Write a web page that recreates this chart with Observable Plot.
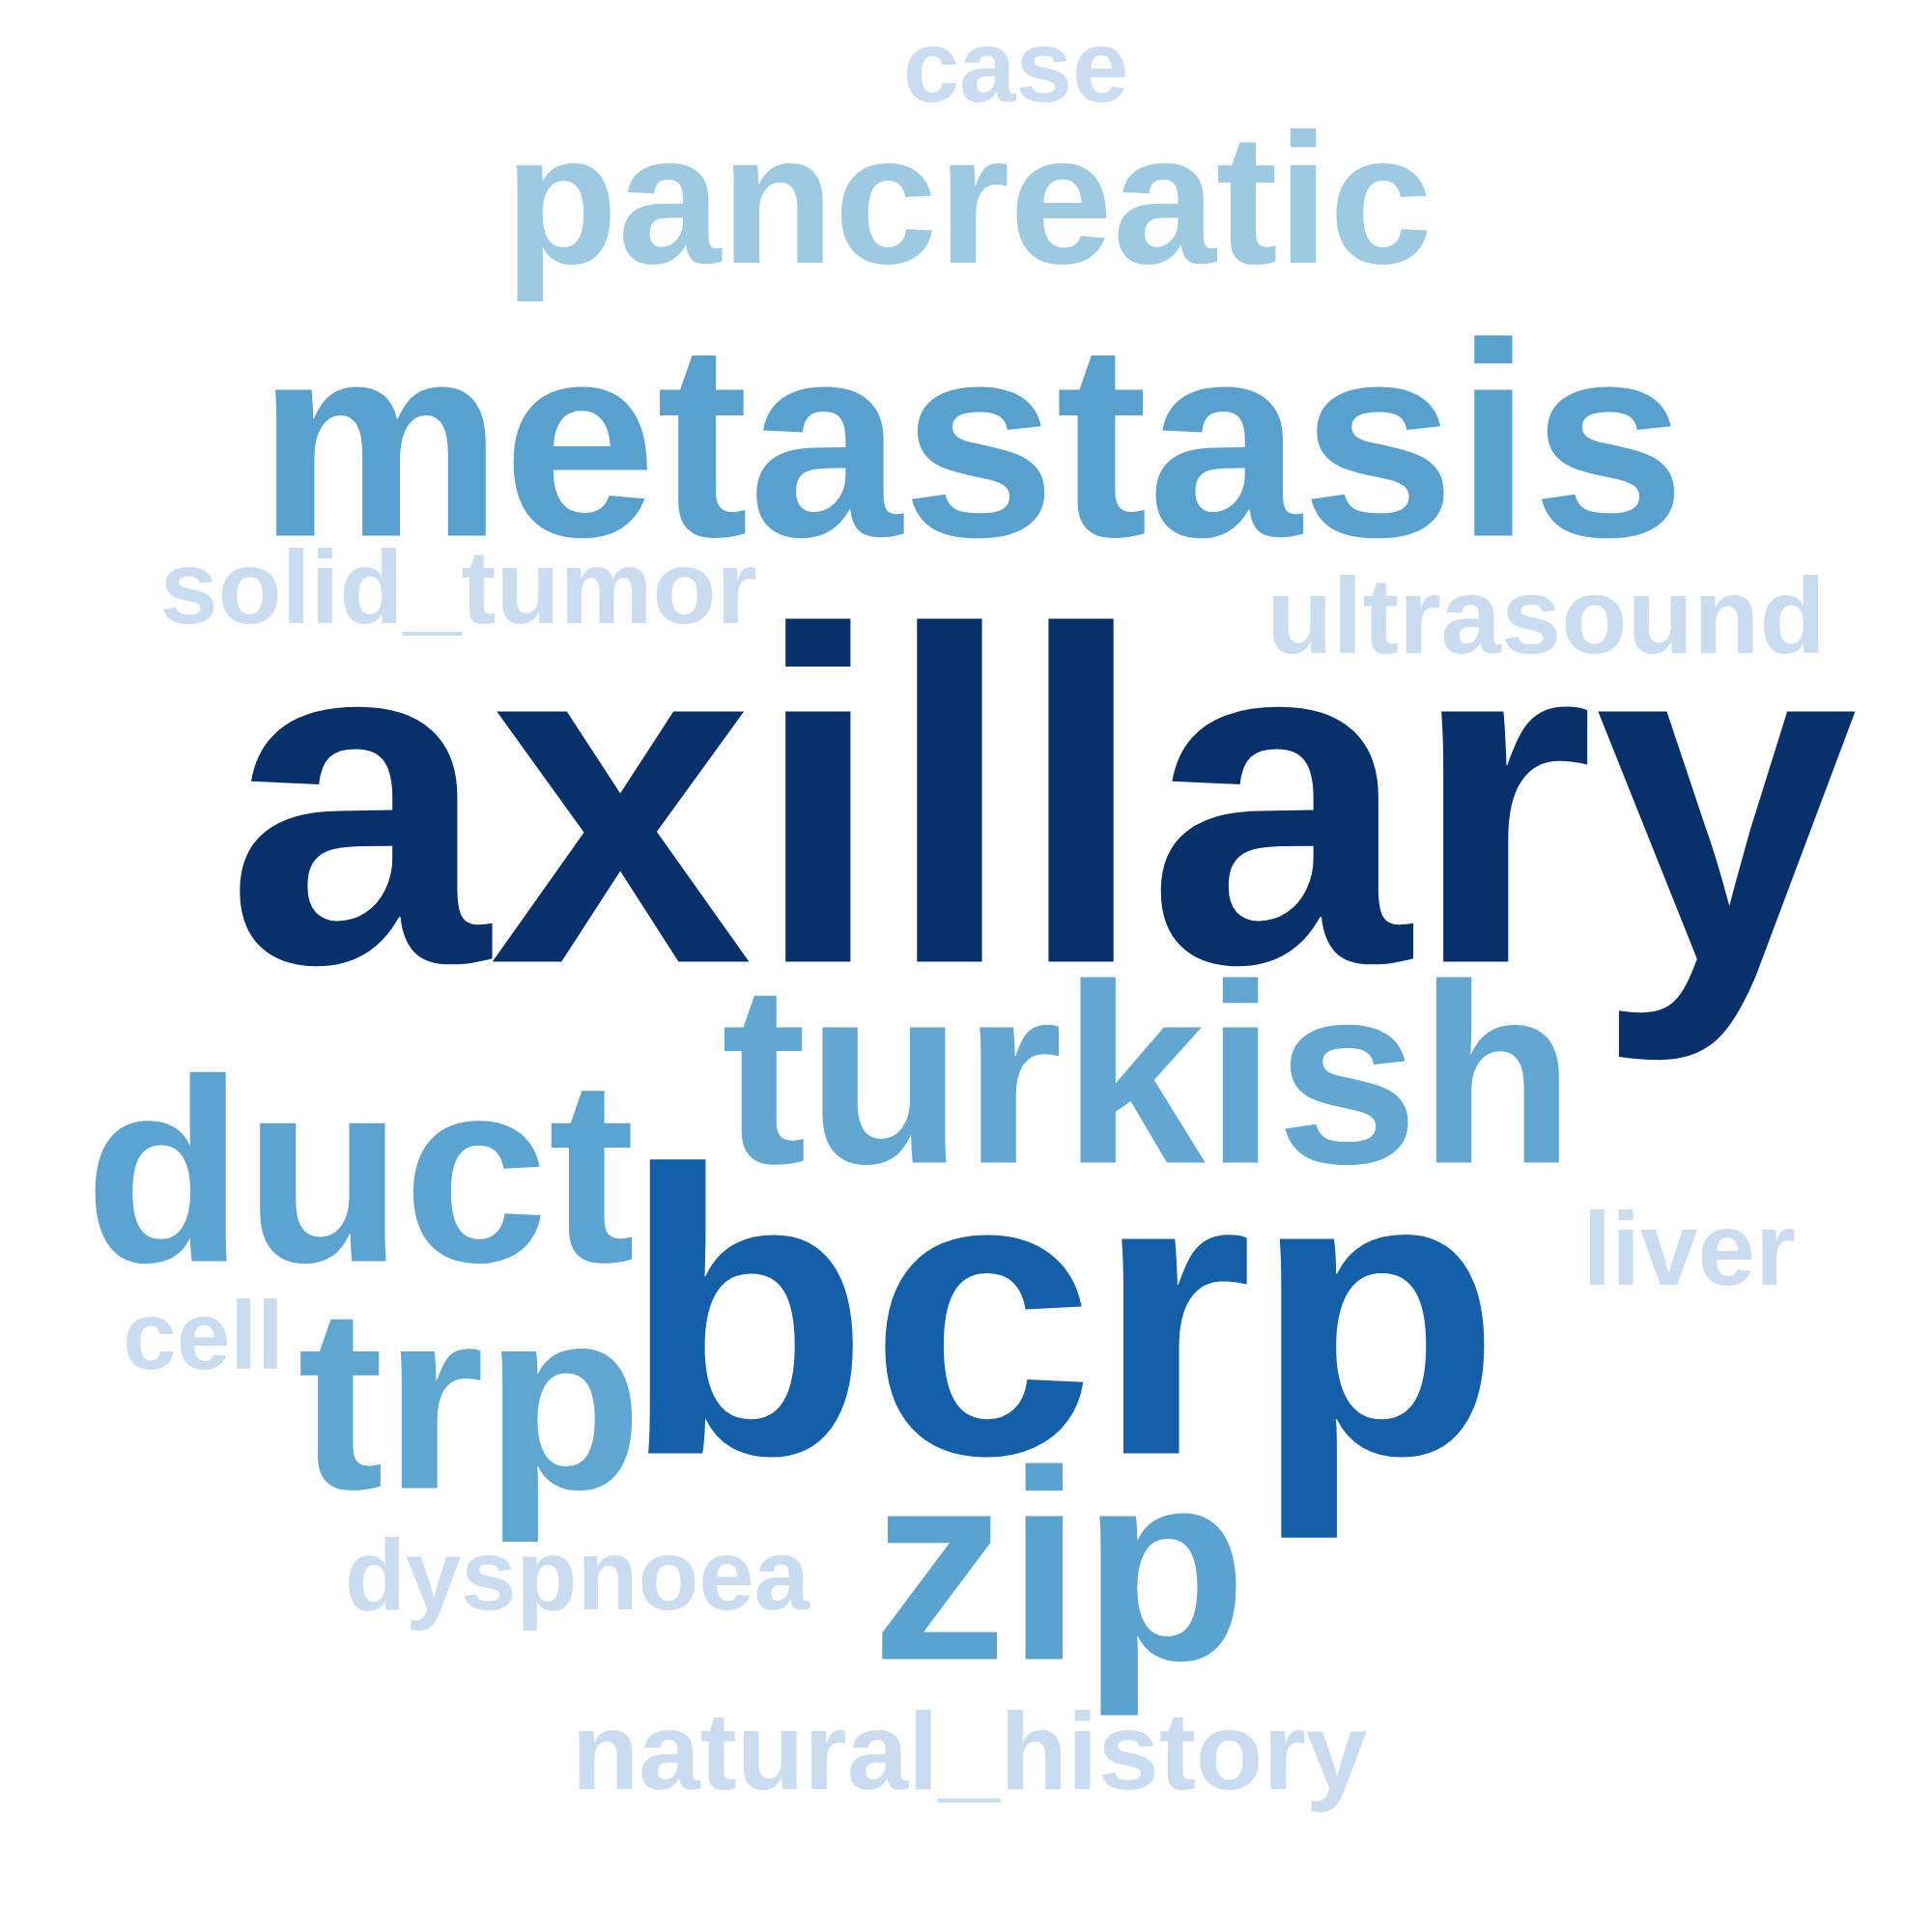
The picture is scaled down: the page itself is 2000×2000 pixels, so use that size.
<!DOCTYPE html>
<html><head><meta charset="utf-8">
<script src="https://cdn.jsdelivr.net/npm/d3@7"></script>
<script src="https://cdn.jsdelivr.net/npm/@observablehq/plot@0.6"></script>
<style>body{margin:0;background:#fff}</style>
</head><body><div id="chart"></div>
<script>
const words = ["axillary","metastasis","bcrp","turkish","duct","trp","zip","pancreatic","case","solid_tumor","ultrasound","liver","cell","dyspnoea","natural_history"];
const sizes = [490,286,420,265,270,268,280,192,105,108,112,107,100,103,114];
const colors = ["#08306b","#58a1cf","#1460a8","#61a7d2","#5ba3d0","#5fa6d1","#5aa2cf","#9dc9e1","#cadcef","#cadcef","#cadcef","#cadcef","#cadcef","#cadcef","#cadcef"];
const cx = [1078,1005,1098,1188,372,486,1096,1002,1051,474,1600,1748,210,597,1003];
const baseline = [995,554,1504,1203,1305,1540,1717,271,104,644,675,1329,1416,1665,1851];
const data = words.map((w,i)=>({w,s:sizes[i],c:colors[i],x:cx[i],y:baseline[i]}));
const chart = Plot.plot({
  width:2000,height:2000,margin:0,
  x:{domain:[0,2000],range:[0,2000],axis:null},
  y:{domain:[0,2000],range:[0,2000],axis:null},
  marks: data.map(d=>Plot.text([d],{x:"x",y:"y",text:"w",fill:d.c,fontSize:d.s,fontWeight:"bold",fontFamily:"Liberation Sans, Arial, sans-serif",textAnchor:"middle",lineAnchor:"bottom"}))
});
document.getElementById("chart").appendChild(chart);
</script></body></html>
